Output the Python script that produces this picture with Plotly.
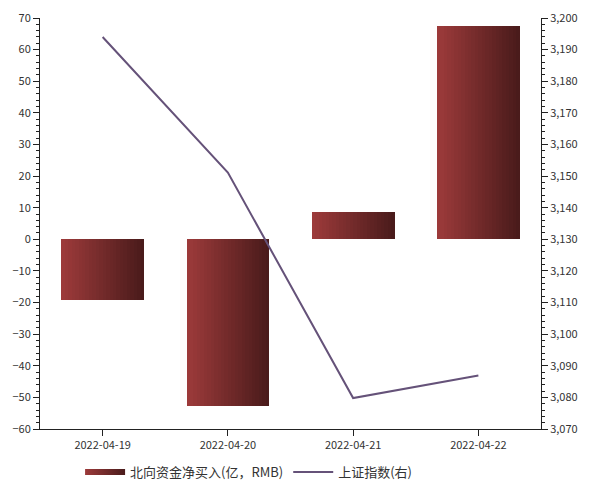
import plotly.graph_objects as go

# data
dates = ["2022-04-19", "2022-04-20", "2022-04-21", "2022-04-22"]
net_buy = [-19.3, -52.8, 8.7, 67.5]          # 北向资金净买入 (亿, RMB), left axis
sh_index = [3194.0, 3151.1, 3079.8, 3086.9]   # 上证指数, right axis

bar_name = "北向资金净买入(亿，RMB)"
line_name = "上证指数(右)"

left_col = (156, 58, 58)
right_col = (74, 27, 27)

def mix(t):
    r, g, b = [int(round(a + (c - a) * t)) for a, c in zip(left_col, right_col)]
    return "rgb(%d,%d,%d)" % (r, g, b)

fig = go.Figure()

# gradient bars: draw each bar as narrow slices, colour going from left to right
bar_w = 0.66
n = 24
for i in range(n):
    fig.add_trace(go.Bar(
        x=dates, y=net_buy,
        width=bar_w / n + 0.002,
        offset=-bar_w / 2 + i * bar_w / n,
        marker=dict(color=mix(i / (n - 1)), line=dict(width=0)),
        showlegend=False, hoverinfo="skip",
    ))

# legend entry for the bars (gradient swatch)
fig.add_trace(go.Scatter(
    x=[None], y=[None], mode="none", fill="toself", name=bar_name,
    fillcolor=mix(0.5),
    fillgradient=dict(type="horizontal",
                      colorscale=[[0, mix(0)], [1, mix(1)]]),
))

fig.add_trace(go.Scatter(
    x=dates, y=sh_index, mode="lines", name=line_name, yaxis="y2",
    line=dict(color="#655279", width=2),
))

tickfont = dict(family="Noto Sans CJK SC", size=11, color="#333333")

# page has an 8px body margin, so the figure is a bit smaller than the window
fig.update_layout(
    width=593, height=479,
    margin=dict(l=32, r=60, t=10, b=58, autoexpand=False),
    paper_bgcolor="white", plot_bgcolor="white",
    barmode="overlay", bargap=0,
    font=tickfont,
    showlegend=True,
    legend=dict(orientation="h", x=0.08, xanchor="left", y=-0.068, yanchor="top",
                font=dict(family="Noto Sans CJK SC", size=13, color="#333333"),
                itemwidth=40),
    xaxis=dict(type="category", range=[-0.5, 3.5], showline=True, linecolor="#222222",
               linewidth=1, ticks="outside", ticklen=6, tickcolor="#222222",
               showgrid=False, tickfont=tickfont, automargin=False),
    yaxis=dict(range=[-60, 70], dtick=10, showline=True, linecolor="#222222",
               linewidth=1, ticks="outside", ticklen=6, tickcolor="#222222",
               showgrid=False, zeroline=False, tickfont=tickfont, automargin=False,
               ticklabeloverflow="allow",
               minor=dict(dtick=2, ticks="outside", ticklen=3, tickcolor="#222222")),
    yaxis2=dict(range=[3070, 3200], dtick=10, overlaying="y", side="right",
                showline=True, linecolor="#222222", linewidth=1, ticks="outside",
                ticklen=6, tickcolor="#222222", showgrid=False, zeroline=False,
                tickformat=",d", tickfont=tickfont, automargin=False,
                ticklabeloverflow="allow",
                minor=dict(dtick=2, ticks="outside", ticklen=3, tickcolor="#222222")),
)

fig.write_html("out.html")
